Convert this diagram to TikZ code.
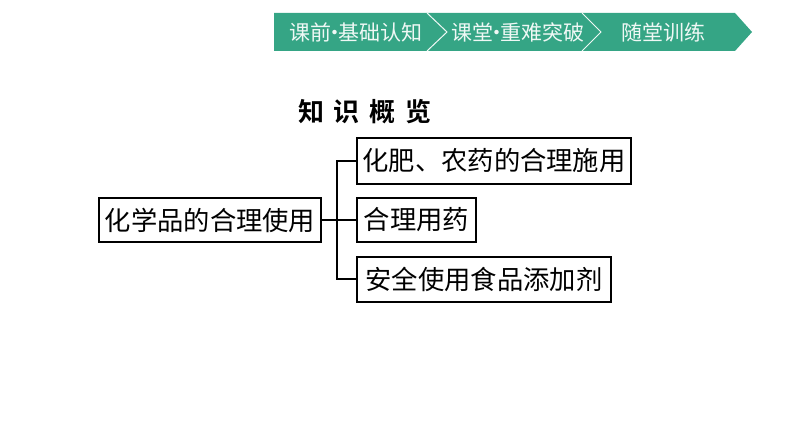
\documentclass[tikz,border=0pt]{standalone}
\usepackage{fontspec}
\newfontfamily\cjk{Noto Sans CJK SC}
\newfontfamily\cjkb{Noto Sans CJK SC Bold}
\definecolor{bannergreen}{HTML}{35A585}
\newcommand{\dotsep}{\makebox[7pt][c]{•}}
\newcommand{\tgap}{\hspace{10pt}}
\tikzset{
  x=1pt,y=-1pt,
  bx/.style={draw=black,line width=2pt,inner sep=0pt,anchor=west,minimum height=44pt,font=\cjk\fontsize{26.3}{28}\selectfont},
  conn/.style={draw=black,line width=2pt},
  tab/.style={fill=bannergreen,draw=none},
  tabtxt/.style={text=white!92!bannergreen,font=\cjk\fontsize{21}{23}\selectfont,inner sep=0pt}
}
\begin{document}
\begin{tikzpicture}
\useasboundingbox (0,0) rectangle (794,446);
\fill[tab] (274,13) -- (735,13) -- (752,32) -- (735,51) -- (274,51) -- cycle;
\draw[white!92!bannergreen,line width=1pt] (427,13) -- (447,32) -- (427,51);
\draw[white!92!bannergreen,line width=1pt] (582,13) -- (601,32) -- (582,51);
\node[tabtxt] (t1) at (355.5,32) {课前\dotsep 基础认知};
\node[tabtxt] (t2) at (517.5,32) {课堂\dotsep 重难突破};
\node[tabtxt] (t3) at (663,32) {随堂训练};
\node[font=\cjkb\fontsize{26}{28}\selectfont,inner sep=0pt] (title) at (365,112) {知\tgap 识\tgap 概\tgap 览};
\node[bx,minimum width=222pt] (root) at (98,220) {化学品的合理使用};
\node[bx,minimum width=274pt,minimum height=46pt] (a) at (356,161) {化肥、农药的合理施用};
\node[bx,minimum width=119pt] (b) at (356,220) {合理用药};
\node[bx,minimum width=254pt,minimum height=45pt] (c) at (356,279) {安全使用食品添加剂};
\coordinate (j) at (337,220);
\draw[conn] (root.east) -- (b.west);
\draw[conn] (a.west) -| (j) |- (c.west);
\end{tikzpicture}
\end{document}
